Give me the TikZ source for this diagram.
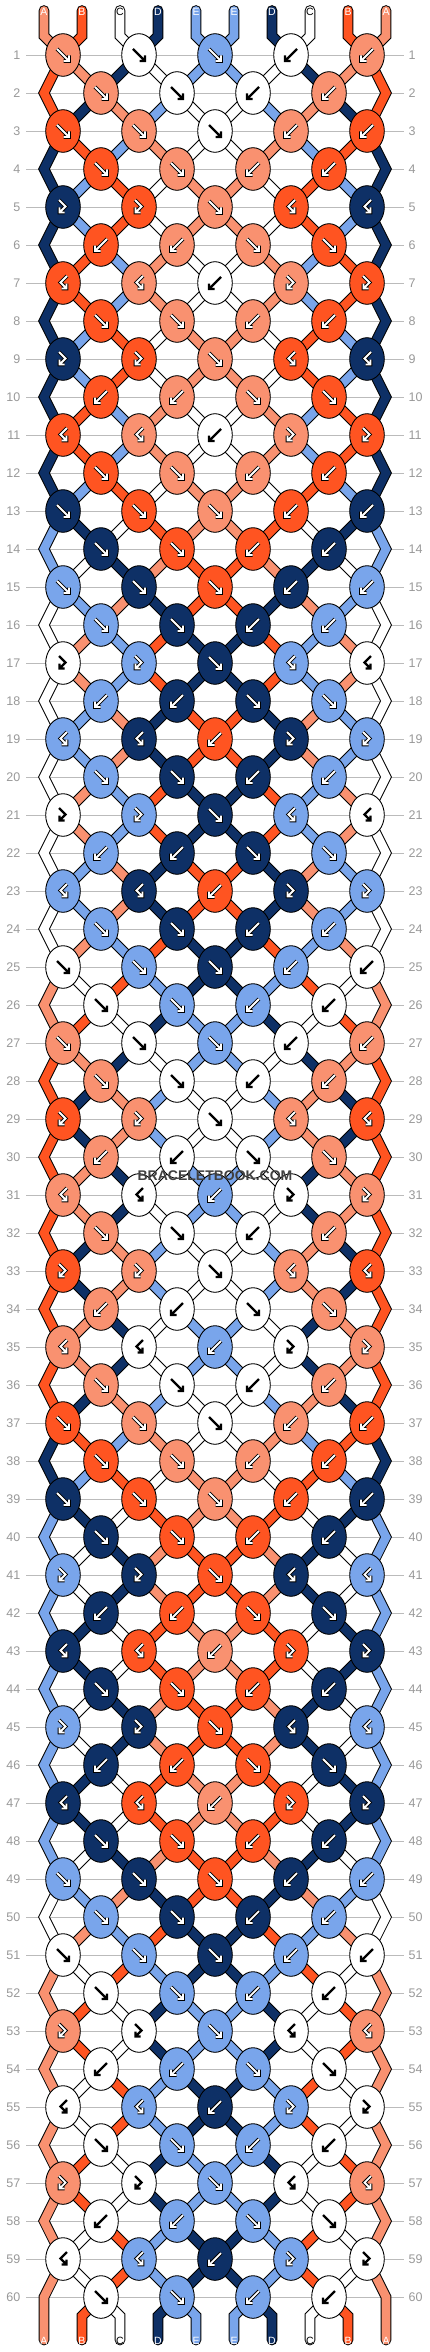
\documentclass[tikz,border=0pt]{standalone}
\usepackage{fontspec}
\setmainfont{Liberation Sans}
\definecolor{cS}{HTML}{F99170}
\definecolor{cO}{HTML}{FF5421}
\definecolor{cW}{HTML}{FFFFFF}
\definecolor{cN}{HTML}{0E3066}
\definecolor{cL}{HTML}{79A5EB}
\definecolor{rowgray}{HTML}{999999}
\definecolor{linegray}{HTML}{BBBBBB}
\definecolor{wmgray}{HTML}{404040}

% string positions (left half) after each row 1..60
\def\seqS{1,2,3,4,4,3,3,4,4,3,3,4,4,3,2,1,1,2,2,1,1,2,2,1,0,0,1,2,2,1,1,2,2,1,1,2,3,4,4,3,3,4,4,3,3,4,4,3,2,1,0,0,0,0,0,0,0,0,0,0}
\def\seqO{0,0,1,2,2,1,1,2,2,1,1,2,3,4,4,3,3,4,4,3,3,4,4,3,2,1,0,0,0,0,0,0,0,0,0,0,1,2,3,4,4,3,3,4,4,3,3,4,4,3,2,1,1,2,2,1,1,2,2,1}
\def\seqW{3,4,4,3,3,4,4,3,3,4,4,3,2,1,0,0,0,0,0,0,0,0,0,0,1,2,3,4,4,3,3,4,4,3,3,4,4,3,2,1,1,2,2,1,1,2,2,1,0,0,1,2,2,1,1,2,2,1,1,2}
\def\seqN{2,1,0,0,0,0,0,0,0,0,0,0,1,2,3,4,4,3,3,4,4,3,3,4,4,3,2,1,1,2,2,1,1,2,2,1,0,0,1,2,2,1,1,2,2,1,1,2,3,4,4,3,3,4,4,3,3,4,4,3}
\def\seqL{4,3,2,1,1,2,2,1,1,2,2,1,0,0,1,2,2,1,1,2,2,1,1,2,3,4,4,3,3,4,4,3,3,4,4,3,2,1,0,0,0,0,0,0,0,0,0,0,1,2,3,4,4,3,3,4,4,3,3,4}

\newcommand{\strpath}[2]{(44+38*#1,10.5) -- (44+38*#1,36)
  \foreach \pp [count=\rr] in #2 { -- ({ifthenelse(mod(\rr,2)==1,63+76*floor(\pp/2),ifthenelse(\pp==0,44,101+76*floor((\pp-1)/2)))},{55+38*(\rr-1)}) }
  -- (44+38*#1,2316) -- (44+38*#1,2340)}

\newcommand{\drawstrings}{%
  \draw[strout] \strpath{0}{\seqS};
  \draw[strout] \strpath{1}{\seqO};
  \draw[strout] \strpath{2}{\seqW};
  \draw[strout] \strpath{3}{\seqN};
  \draw[strout] \strpath{4}{\seqL};
  \draw[strin=cS] \strpath{0}{\seqS};
  \draw[strin=cO] \strpath{1}{\seqO};
  \draw[strin=cW] \strpath{2}{\seqW};
  \draw[strin=cN] \strpath{3}{\seqN};
  \draw[strin=cL] \strpath{4}{\seqL};
}

% arrow shapes: F forward, B backward, G forward-backward, H backward-forward
\def\arrF{(-6,-6) -- (6,6) (0.5,6) -- (6,6) -- (6,0.5)}
\def\arrB{(6,-6) -- (-6,6) (-0.5,6) -- (-6,6) -- (-6,0.5)}
\def\arrG{(-4,-7) -- (2.5,-0.5) -- (-3.5,5.5) (-3.5,0.5) -- (-3.5,5.5) -- (1.5,5.5)}
\def\arrH{(4,-7) -- (-2.5,-0.5) -- (3.5,5.5) (3.5,0.5) -- (3.5,5.5) -- (-1.5,5.5)}
\def\Wltr{W}

\newcommand{\knot}[4]{%
  \edef\kc{c#3}\edef\kt{#3}%
  \expandafter\let\expandafter\karrow\csname arr#4\endcsname
  \begin{scope}[shift={(#1,#2)}]
    \draw[fill=\kc, line width=0.9pt] (0,0) ellipse [x radius=17.3pt, y radius=21.3pt];
    \ifx\kt\Wltr
      \draw[black, line width=2.4pt] \karrow;
    \else
      \draw[black, line width=3.6pt] \karrow;
      \draw[white, line width=1.8pt] \karrow;
    \fi
  \end{scope}}

\newcommand{\halfknots}{%
  \foreach \rr/\ca/\ta/\cb/\tb in {
    1/S/F/W/F, 2/S/F/W/F, 3/O/F/S/F, 4/O/F/S/F, 5/N/G/O/G,
    6/O/B/S/B, 7/O/H/S/H, 8/O/F/S/F, 9/N/G/O/G, 10/O/B/S/B,
    11/O/H/S/H, 12/O/F/S/F, 13/N/F/O/F, 14/N/F/O/F, 15/L/F/N/F,
    16/L/F/N/F, 17/W/G/L/G, 18/L/B/N/B, 19/L/H/N/H, 20/L/F/N/F,
    21/W/G/L/G, 22/L/B/N/B, 23/L/H/N/H, 24/L/F/N/F, 25/W/F/L/F,
    26/W/F/L/F, 27/S/F/W/F, 28/S/F/W/F, 29/O/G/S/G, 30/S/B/W/B,
    31/S/H/W/H, 32/S/F/W/F, 33/O/G/S/G, 34/S/B/W/B, 35/S/H/W/H,
    36/S/F/W/F, 37/O/F/S/F, 38/O/F/S/F, 39/N/F/O/F, 40/N/F/O/F,
    41/L/G/N/G, 42/N/B/O/B, 43/N/H/O/H, 44/N/F/O/F, 45/L/G/N/G,
    46/N/B/O/B, 47/N/H/O/H, 48/N/F/O/F, 49/L/F/N/F, 50/L/F/N/F,
    51/W/F/L/F, 52/W/F/L/F, 53/S/G/W/G, 54/W/B/L/B, 55/W/H/L/H,
    56/W/F/L/F, 57/S/G/W/G, 58/W/B/L/B, 59/W/H/L/H, 60/W/F/L/F}{%
    \pgfmathtruncatemacro\yy{55+38*(\rr-1)}%
    \ifodd\rr\relax
      \knot{63}{\yy}{\ca}{\ta}\knot{139}{\yy}{\cb}{\tb}%
    \else
      \knot{101}{\yy}{\ca}{\ta}\knot{177}{\yy}{\cb}{\tb}%
    \fi}}

\begin{document}
\begin{tikzpicture}[x=1pt,y=-1pt,
  strout/.style={black, line width=10.7pt, line cap=round, line join=miter},
  strin/.style={#1, line width=8.7pt, line cap=round, line join=miter},
  rownum/.style={text=rowgray, inner sep=0pt, font=\fontsize{12.5}{14}\selectfont},
  strlabel/.style={inner sep=0pt, font=\fontsize{10.5}{12}\selectfont},
  gridline/.style={linegray, line width=0.8pt}]
\fill[white] (0,0) rectangle (430,2352);
\useasboundingbox (0,0) rectangle (430,2352);

% grid lines and row numbers
\foreach \rr in {1,...,60}{
  \pgfmathtruncatemacro\yy{55+38*(\rr-1)}
  \draw[gridline] (26,\yy) -- (404,\yy);
  \node[rownum, anchor=east] (numl\rr) at (20.5,\yy) {\rr};
  \node[rownum, anchor=west] (numr\rr) at (408.5,\yy) {\rr};
}

% strings
\drawstrings
\begin{scope}[xshift=430pt, xscale=-1]
  \drawstrings
\end{scope}

% knots
\halfknots
\begin{scope}[xshift=430pt, xscale=-1]
  \halfknots
\end{scope}
\foreach \rr/\ca/\ta in {1/L/F, 3/W/F, 5/S/F, 7/W/B, 9/S/F, 11/W/B, 13/S/F, 15/O/F,
  17/N/F, 19/O/B, 21/N/F, 23/O/B, 25/N/F, 27/L/F, 29/W/F, 31/L/B, 33/W/F, 35/L/B,
  37/W/F, 39/S/F, 41/O/F, 43/S/B, 45/O/F, 47/S/B, 49/O/F, 51/N/F, 53/L/F, 55/N/B,
  57/L/F, 59/N/B}{%
  \pgfmathtruncatemacro\yy{55+38*(\rr-1)}%
  \knot{215}{\yy}{\ca}{\ta}}

% string labels
\foreach \i/\t/\col in {0/A/white,1/B/white,2/C/black,3/D/white,4/E/white,
  5/E/white,6/D/white,7/C/black,8/B/white,9/A/white}{
  \node[strlabel, text=\col] (top\i) at (44+38*\i,12.3) {\t};
  \node[strlabel, text=\col] (bot\i) at (44+38*\i,2340.5) {\t};
}

% watermark
\node[text=wmgray, inner sep=0pt, font=\bfseries\fontsize{14}{16}\selectfont] (wm) at (215,1176) {BRACELETBOOK.COM};
\end{tikzpicture}
\end{document}
